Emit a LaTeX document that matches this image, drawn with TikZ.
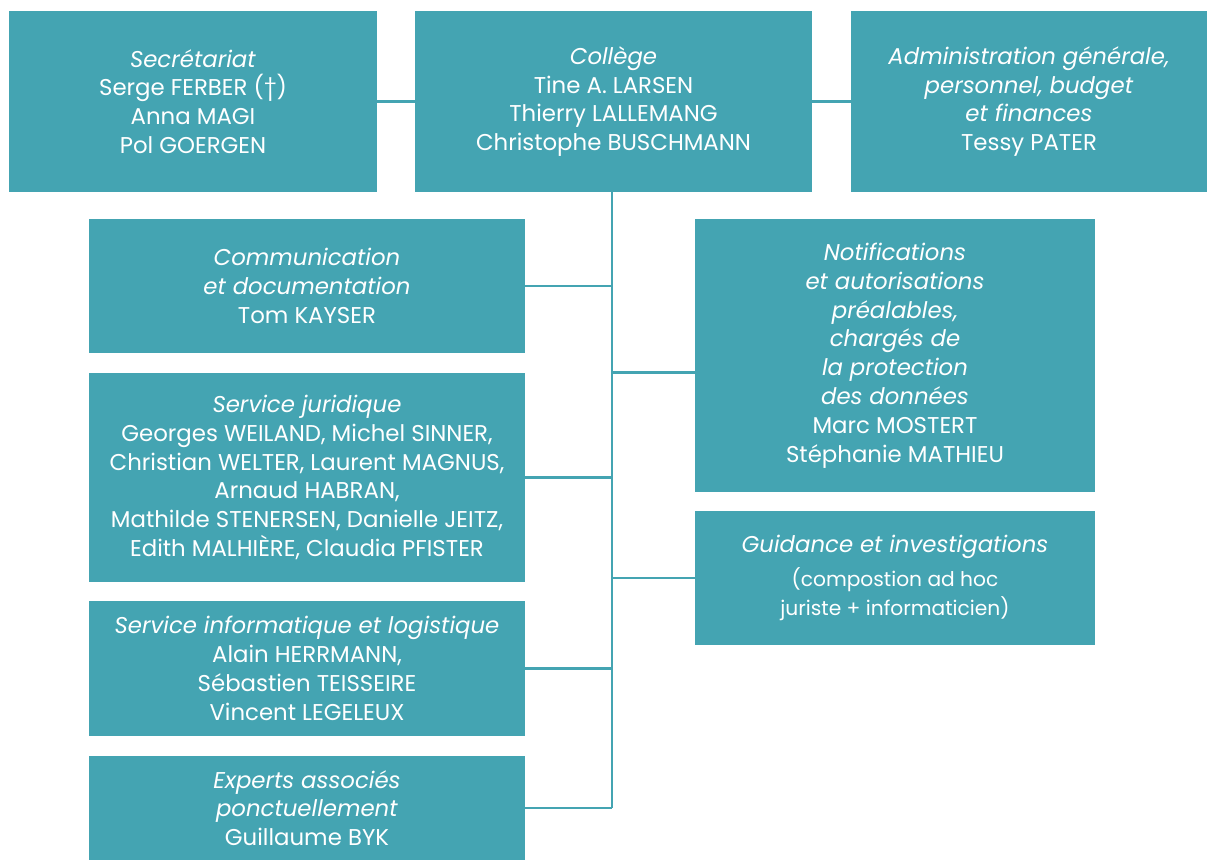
\documentclass[tikz,border=0pt]{standalone}
\usepackage{fontspec}
\setmainfont{Poppins}
\usetikzlibrary{positioning}
\definecolor{teal}{RGB}{68,164,178}

\begin{document}
\begin{tikzpicture}[
        x=0.02cm, y=-0.02cm,
        unit/.style={rectangle, inner sep=0pt, text centered, fill=teal, text=white, align=center, font=\fontsize{13}{16.4}\selectfont},
        link/.style={draw=teal, line width=1.4pt}
    ]
        \useasboundingbox (0,0) rectangle (1207,860);

        % Top row
        \node (secr) [unit, minimum width=7.36cm, minimum height=3.62cm] at (193,101.5) {\textit{Secrétariat} \\ Serge FERBER (†) \\ Anna MAGI \\ Pol GOERGEN};
        \node (college) [unit, minimum width=7.94cm, minimum height=3.62cm] at (613.5,101.5) {\textit{Collège} \\ Tine A. LARSEN \\ Thierry LALLEMANG \\ Christophe BUSCHMANN};
        \node (admin) [unit, minimum width=7.12cm, minimum height=3.62cm] at (1029,101.5) {\textit{Administration générale,} \\ \textit{personnel, budget} \\ \textit{et finances} \\ Tessy PATER};

        % Left column
        \node (comm) [unit, minimum width=8.72cm, minimum height=2.68cm] at (307,286) {\textit{Communication} \\ \textit{et documentation} \\ Tom KAYSER};
        \node (legal) [unit, minimum width=8.72cm, minimum height=4.18cm] at (307,477.5) {\textit{Service juridique} \\ Georges WEILAND, Michel SINNER, \\ Christian WELTER, Laurent MAGNUS, \\ Arnaud HABRAN, \\ Mathilde STENERSEN, Danielle JEITZ, \\ Edith MALHIÈRE, Claudia PFISTER};
        \node (it) [unit, minimum width=8.72cm, minimum height=2.7cm] at (307,668.5) {\textit{Service informatique et logistique} \\ Alain HERRMANN, \\ Sébastien TEISSEIRE \\ Vincent LEGELEUX};
        \node (experts) [unit, minimum width=8.72cm, minimum height=2.08cm] at (307,808) {\textit{Experts associés} \\ \textit{ponctuellement} \\ Guillaume BYK};

        % Right column
        \node (notif) [unit, minimum width=8cm, minimum height=5.46cm] at (895,355.5) {\textit{Notifications} \\ \textit{et autorisations} \\ \textit{préalables,} \\ \textit{chargés de} \\ \textit{la protection} \\ \textit{des données} \\ Marc MOSTERT \\ Stéphanie MATHIEU};
        \node (guid) [unit, minimum width=8cm, minimum height=2.68cm] at (895,578) {\textit{Guidance et investigations} \\[3pt] {\fontsize{11.5}{14}\selectfont (compostion ad hoc} \\ {\fontsize{11.5}{14}\selectfont juriste + informaticien)}};

        % Trunk
        \coordinate (trunkend) at (612,808);
        \draw [link] (secr.east) -- (college.west);
        \draw [link] (college.east) -- (admin.west);
        \draw [link] (college.south -| trunkend) -- (trunkend);

        % Branches
        \draw [link] (comm.east) -- (comm.east -| trunkend);
        \draw [link] (legal.east) -- (legal.east -| trunkend);
        \draw [link] (it.east) -- (it.east -| trunkend);
        \draw [link] (experts.east) -- (trunkend);
        \draw [link] ([yshift=-0.34cm]notif.west) -- ([yshift=-0.34cm]notif.west -| trunkend);
        \draw [link] (guid.west) -- (guid.west -| trunkend);

    \end{tikzpicture}
\end{document}
